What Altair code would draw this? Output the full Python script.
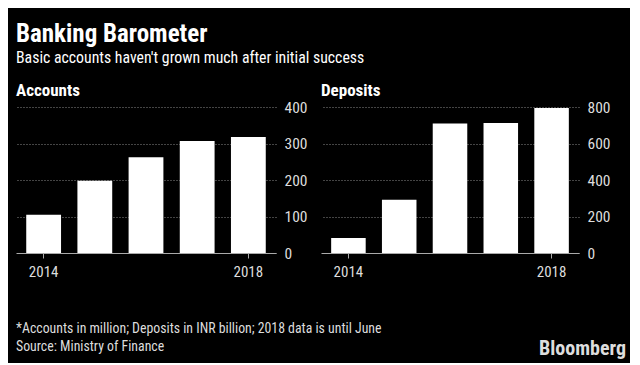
import altair as alt
import pandas as pd

years = ["2014", "2015", "2016", "2017", "2018"]
accounts = [105, 198, 262, 307, 318]
deposits = [82, 292, 709, 712, 795]

acc_ticks = [0, 100, 200, 300, 400]
dep_ticks = [0, 200, 400, 600, 800]

FONT = "Roboto Condensed, Liberation Sans, sans-serif"

df_a = pd.DataFrame({"year": years, "value": accounts})
df_d = pd.DataFrame({"year": years, "value": deposits})


def panel(df, title, ticks, w):
    return (
        alt.Chart(df, title=alt.TitleParams(title, anchor="start", font=FONT, fontSize=17,
                                            fontWeight="bold", color="white", offset=0))
        .mark_bar(color="white")
        .encode(
            x=alt.X("year:O", title=None,
                    scale=alt.Scale(paddingInner=0.32, paddingOuter=0.2),
                    axis=alt.Axis(values=["2014", "2018"], labelAngle=0, tickSize=5,
                                  tickColor="#aaaaaa", domainColor="#aaaaaa", labelColor="#dddddd",
                                  labelFontSize=15, labelFont=FONT, labelPadding=6, grid=False)),
            y=alt.Y("value:Q", title=None,
                    scale=alt.Scale(domain=[ticks[0], ticks[-1]], nice=False),
                    axis=alt.Axis(orient="right", values=ticks, domain=False, ticks=False,
                                  labelColor="#dddddd", labelFontSize=15.5, labelFont=FONT,
                                  labelPadding=8, grid=True, gridColor="#888888",
                                  gridDash=[1, 2], gridWidth=1)),
        )
        .properties(width=w, height=146)
    )


acc = panel(df_a, "Accounts", acc_ticks, 260)
dep = panel(df_d, "Deposits", dep_ticks, 258)

top = alt.hconcat(acc, dep, spacing=14).resolve_scale(y="independent")

footer = alt.layer(
    alt.Chart().mark_text(align="left", baseline="middle", font=FONT, fontSize=13.8, color="#dddddd")
    .encode(x=alt.value(0), y=alt.value(10),
            text=alt.value("*Accounts in million; Deposits in INR billion; 2018 data is until June")),
    alt.Chart().mark_text(align="left", baseline="middle", font=FONT, fontSize=13.8, color="#dddddd")
    .encode(x=alt.value(0), y=alt.value(28), text=alt.value("Source: Ministry of Finance")),
    alt.Chart().mark_text(align="right", baseline="middle", font=FONT, fontSize=20,
                          fontWeight="bold", color="#dddddd")
    .encode(x=alt.value(610), y=alt.value(30), text=alt.value("Bloomberg")),
).properties(width=610, height=40)

chart = (
    alt.vconcat(top, footer, spacing=40)
    .properties(
        title=alt.TitleParams(
            "Banking Barometer",
            subtitle="Basic accounts haven't grown much after initial success",
            anchor="start", font=FONT, fontSize=25, fontWeight="bold", color="white",
            subtitleFont=FONT, subtitleFontSize=15.8, subtitleColor="white",
            subtitlePadding=4, offset=16,
        ),
        background="black",
        padding={"left": 8, "top": 14, "right": 4, "bottom": 4},
    )
    .configure_view(stroke=None)
)

chart.save("out.html", embed_options={"renderer": "svg", "actions": False})
